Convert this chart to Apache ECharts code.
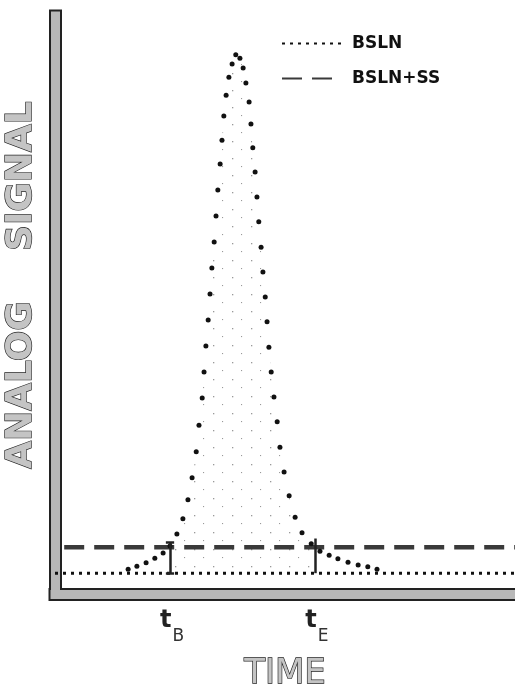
<!DOCTYPE html>
<html>
<head>
<meta charset="utf-8">
<script src="https://cdn.jsdelivr.net/npm/echarts@6/dist/echarts.min.js"></script>
<style>
html, body { margin: 0; padding: 0; background: #fff; }
#chart { width: 515px; height: 686px; }
</style>
</head>
<body>
<div id="chart"></div>
<script>
// dots of the peak (time, signal in arbitrary units)
const peakTime = [15.9, 17.8, 19.8, 21.7, 23.5, 25.0, 26.5, 27.8, 28.9, 29.8, 30.7, 31.3, 32.0, 32.4,
  32.8, 33.3, 33.7, 34.1, 34.6, 35.0, 35.4, 35.9, 36.3, 36.7, 37.2, 37.8, 38.5, 39.3,
  40.2, 40.9, 41.5, 42.2, 42.6, 43.0, 43.5, 43.9, 44.3, 44.8, 45.2, 45.7, 46.1, 46.5,
  47.0, 47.6, 48.3, 48.9, 49.8, 50.9, 52.2, 53.7, 55.7, 57.6, 59.6, 61.5, 63.7, 65.9, 68.0, 70.0];
const peakSignal = [4.3, 4.8, 5.4, 6.2, 7.1, 8.3, 10.4, 13.0, 16.3, 20.1, 24.6, 29.2, 33.9, 38.4,
  42.9, 47.4, 51.9, 56.4, 60.9, 65.4, 69.9, 74.4, 78.5, 82.7, 86.3, 89.4, 91.7, 93.3,
  92.7, 91.0, 88.4, 85.1, 81.3, 77.2, 73.0, 68.7, 64.4, 60.0, 55.7, 51.4, 47.1, 42.7,
  38.4, 34.1, 29.8, 25.4, 21.1, 17.0, 13.3, 10.6, 8.7, 7.4, 6.7, 6.1, 5.5, 5.0, 4.7, 4.3];

const baselineLevel = 3.6;   // BSLN
const bslnSsLevel = 8.1;     // BSLN+SS
const timeRange = [0, 100];
const ssStart = 2;
const tB = 25.0;
const tE = 56.5;
const markerTops = [9.0, 9.6];
const markerNames = ['B', 'E'];

const peakData = peakTime.map((t, i) => [t, peakSignal[i]]);
const stippleData = peakData.filter(p => p[0] >= tB && p[0] <= tE);

// sparse stipple used between tB and tE
function stipple() {
  const c = document.createElement('canvas');
  c.width = 19; c.height = 17;
  const ctx = c.getContext('2d');
  ctx.fillStyle = '#999';
  ctx.fillRect(4, 5, 1.3, 1.3);
  ctx.fillRect(13, 13, 1.1, 1.1);
  return c;
}

const chart = echarts.init(document.getElementById('chart'));

const axisFont = {
  fontFamily: 'DejaVu Sans',
  color: '#c4c4c4',
  textBorderColor: '#222',
  textBorderWidth: 1.3
};

const hidden = { show: false };

chart.setOption({
  animation: false,
  backgroundColor: '#fff',
  grid: { left: 55, right: 0, top: 16, bottom: 92, outerBoundsMode: 'none', containLabel: false },
  legend: {
    orient: 'vertical',
    left: 276,
    top: 30,
    itemWidth: 60,
    itemHeight: 14,
    itemGap: 18,
    data: ['BSLN', 'BSLN+SS'],
    itemStyle: { opacity: 0 },
    textStyle: { fontFamily: 'DejaVu Sans', fontWeight: 'bold', fontSize: 17, color: '#111', padding: [0, 0, 0, 5] }
  },
  xAxis: [{
    type: 'value', min: timeRange[0], max: timeRange[1], z: 3,
    splitLine: hidden, axisTick: hidden,
    axisLine: { lineStyle: { color: '#b8b8b8', width: 9, cap: 'square' } },
    axisLabel: {
      customValues: [tB, tE],
      margin: 15,
      formatter: v => '{t|t}{s|' + (v === tB ? markerNames[0] : markerNames[1]) + '}',
      rich: {
        t: { fontFamily: 'DejaVu Sans', fontWeight: 'bold', fontSize: 24, color: '#222', verticalAlign: 'bottom', padding: [0, 1, 12, 4] },
        s: { fontFamily: 'DejaVu Sans', fontSize: 17, color: '#333', verticalAlign: 'bottom' }
      }
    },
    name: 'TIME', nameLocation: 'middle', nameGap: 63,
    nameTextStyle: Object.assign({ fontSize: 34 }, axisFont)
  }, {
    type: 'value', min: timeRange[0], max: timeRange[1], z: 2,
    splitLine: hidden, axisTick: hidden, axisLabel: hidden,
    axisLine: { lineStyle: { color: '#222', width: 13, cap: 'square' } }
  }],
  yAxis: [{
    type: 'value', min: 0, max: 100, z: 3,
    splitLine: hidden, axisTick: hidden, axisLabel: hidden,
    axisLine: { lineStyle: { color: '#b8b8b8', width: 9, cap: 'square' } },
    name: 'ANALOG    SIGNAL', nameLocation: 'middle', nameGap: 15,
    nameTextStyle: Object.assign({ fontSize: 36, fontWeight: 'bold', padding: [0, 0, 0, 40] }, axisFont)
  }, {
    type: 'value', min: 0, max: 100, z: 2,
    splitLine: hidden, axisTick: hidden, axisLabel: hidden,
    axisLine: { lineStyle: { color: '#222', width: 13, cap: 'square' } }
  }],
  series: [
    {
      name: 'stipple', type: 'line', data: stippleData, smooth: true,
      symbol: 'none', lineStyle: { width: 0 },
      areaStyle: { origin: baselineLevel, color: { image: stipple(), repeat: 'repeat' }, opacity: 1 },
      silent: true, z: 1
    },
    {
      name: 'BSLN', type: 'line', symbol: 'none',
      data: [[timeRange[0], baselineLevel], [timeRange[1], baselineLevel]],
      itemStyle: { color: '#111' },
      lineStyle: { color: '#111', width: 3, type: [3, 5] },
      markLine: {
        silent: true, symbol: 'none', label: hidden,
        lineStyle: { color: '#222', width: 2.5, type: 'solid' },
        data: [
          [{ coord: [tB, baselineLevel] }, { coord: [tB, markerTops[0]] }],
          [{ coord: [tB - 0.9, markerTops[0]] }, { coord: [tB + 0.9, markerTops[0]] }],
          [{ coord: [tB - 0.9, baselineLevel] }, { coord: [tB + 0.9, baselineLevel] }],
          [{ coord: [tE, baselineLevel] }, { coord: [tE, markerTops[1]] }]
        ]
      },
      z: 3
    },
    {
      name: 'BSLN+SS', type: 'line', symbol: 'none',
      data: [[ssStart, bslnSsLevel], [timeRange[1], bslnSsLevel]],
      itemStyle: { color: '#3a3a3a' },
      lineStyle: { color: '#3a3a3a', width: 4.5, type: [20, 10] },
      z: 2
    },
    {
      name: 'peak', type: 'line', data: peakData,
      showSymbol: true, symbol: 'circle', symbolSize: 5,
      itemStyle: { color: '#111' },
      lineStyle: { width: 0 },
      z: 4
    }
  ]
});
</script>
</body>
</html>
